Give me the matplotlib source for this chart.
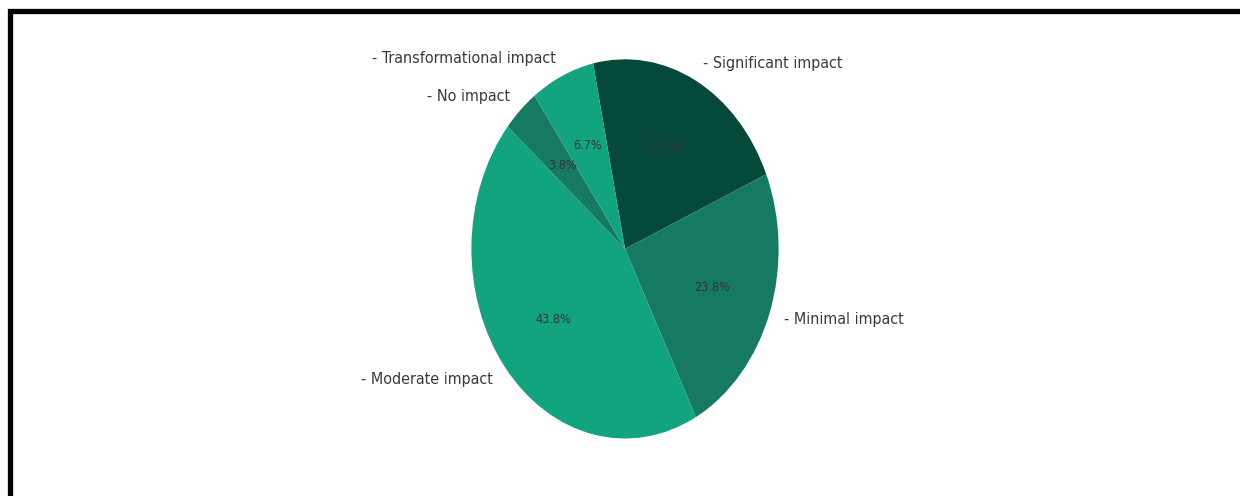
import matplotlib
matplotlib.use("Agg")
import matplotlib.pyplot as plt
from matplotlib.patches import Rectangle

# impact categories and their shares (%)
labels = ["Significant impact", "Minimal impact", "Moderate impact",
          "No impact", "Transformational impact"]
shares = [21.9, 23.8, 43.8, 3.8, 6.7]
colors = ["#05493a", "#167a62", "#12a37f", "#167a62", "#12a37f"]

fig = plt.figure(figsize=(12.4, 4.96), dpi=100)
ax = fig.add_axes([0.3492, 0.0204, 0.3097, 0.9556])

wedges, texts, autotexts = ax.pie(
    shares,
    labels=["- " + l for l in labels],
    colors=colors,
    autopct="%1.1f%%",
    startangle=102,
    counterclock=False,
    textprops={"fontsize": 11.5, "color": "#3a3a3a", "fontstretch": "condensed"},
)
for t in autotexts:
    t.set_fontsize(9)
    t.set_color("#333333")

# stretch the pie vertically (oval)
ax.set_aspect("auto")
ax.set_xlim(-1.25, 1.25)
ax.set_ylim(-1.25, 1.25)

# heavy black frame around the panel
frame = Rectangle((9.5 / 1240, -0.1), 1.2, 1 - 10.5 / 496 + 0.1,
                  transform=fig.transFigure, fill=False,
                  edgecolor="black", linewidth=3.8, clip_on=False)
fig.add_artist(frame)

fig.savefig("out.png", dpi=100, facecolor="white")
